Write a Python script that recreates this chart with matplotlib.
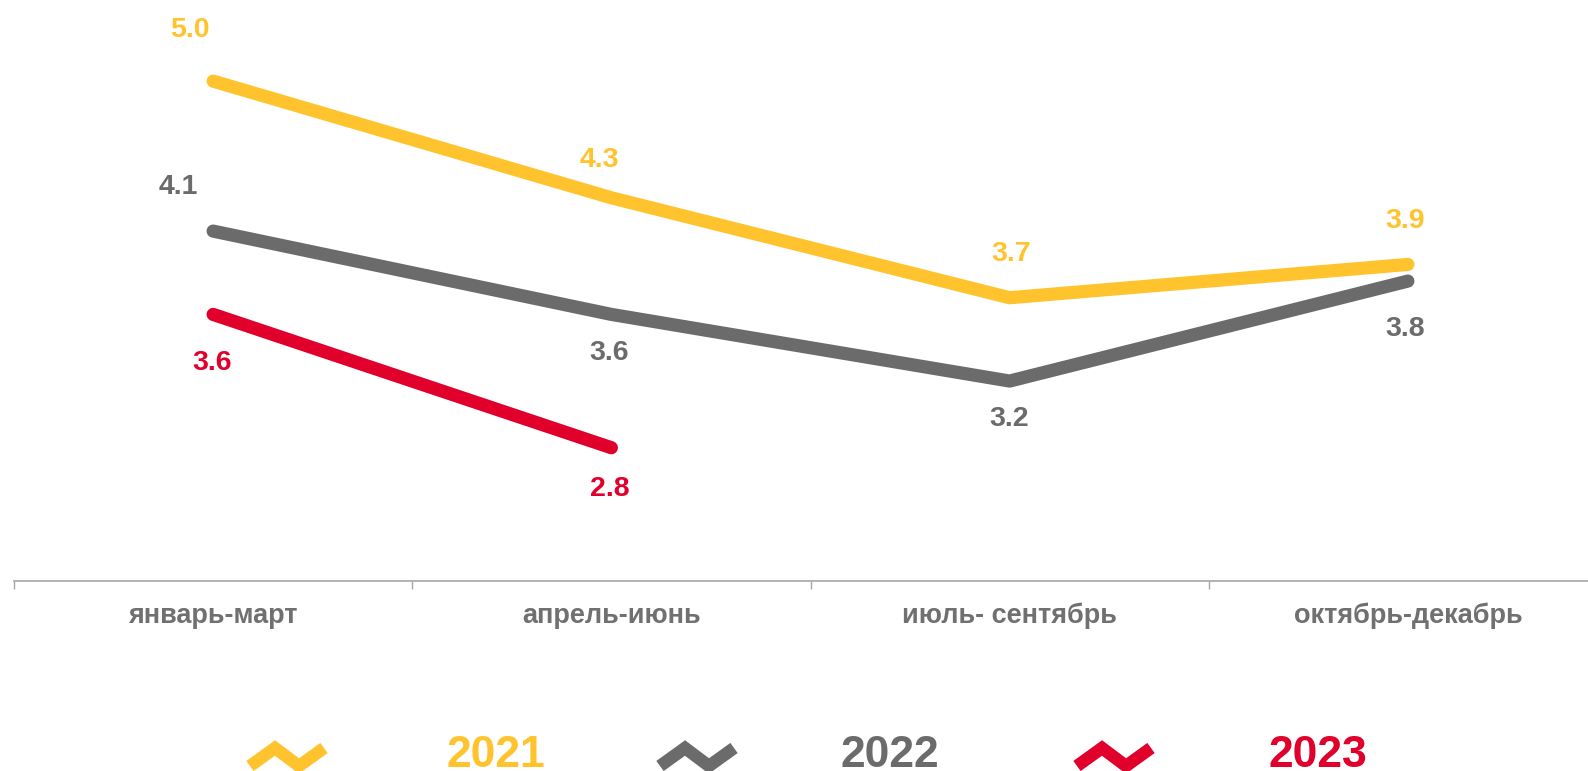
import matplotlib
matplotlib.use("Agg")
import matplotlib.pyplot as plt
from matplotlib.lines import Line2D
from matplotlib.transforms import blended_transform_factory

plt.rcParams['font.family'] = ['Liberation Sans', 'DejaVu Sans']
plt.rcParams['font.weight'] = 'bold'

categories = ["январь-март", "апрель-июнь", "июль- сентябрь", "октябрь-декабрь"]
years = ["2021", "2022", "2023"]
values_2021 = [5.0, 4.3, 3.7, 3.9]
values_2022 = [4.1, 3.6, 3.2, 3.8]
values_2023 = [3.6, 2.8]

colors = {"2021": "#FFC32E", "2022": "#6B6B6B", "2023": "#E1002B"}
series = {"2021": values_2021, "2022": values_2022, "2023": values_2023}

# label offsets in pixels (style only)
label_offsets = {
    "2021": [(-23, 51), (-12, 38), (2, 44), (-3, 43)],
    "2022": [(-35, 44), (-2, -39), (0, -38), (-3, -48)],
    "2023": [(-1, -49), (-2, -41)],
}

W, H = 1588, 771
fig = plt.figure(figsize=(W / 100, H / 100), dpi=100)
left = 14 / W
width = (1607 - 14) / W
bottom = 1 - 581 / H
ax = fig.add_axes([left, bottom, width, 1 - bottom])
ax.set_xlim(-0.5, 3.5)
ax.set_ylim(2.0, 5.487)
ax.patch.set_alpha(0)

for y in years:
    vals = series[y]
    xs = list(range(len(vals)))
    ax.plot(xs, vals, color=colors[y], lw=9.5, solid_capstyle='round',
            solid_joinstyle='round', zorder=3 if y != "2022" else 2)
    for i, v in enumerate(vals):
        dx, dy = label_offsets[y][i]
        ax.annotate(f"{v:.1f}", (i, v), xytext=(dx, dy), textcoords='offset pixels',
                    ha='center', va='center', fontsize=20.5, fontweight='bold',
                    color=colors[y])

for s in ['top', 'right', 'left']:
    ax.spines[s].set_visible(False)
ax.spines['bottom'].set_color('#A6A6A6')
ax.spines['bottom'].set_linewidth(1.2)
ax.set_yticks([])
ax.set_xticks([-0.5, 0.5, 1.5, 2.5, 3.5])
ax.set_xticklabels([])
ax.tick_params(axis='x', length=5.8, width=1.0, color='#A6A6A6', direction='out')

tr = blended_transform_factory(ax.transData, fig.transFigure)
for i, c in enumerate(categories):
    ax.text(i, 1 - 623 / H, c, transform=tr, ha='center', va='baseline',
            fontsize=19.5, fontweight='bold', color='#707070')

# legend
zig = [(250, 766), (275, 748), (299, 766), (324, 748)]
marker_dx = {"2021": 0, "2022": 410, "2023": 827}
text_x = {"2021": 446, "2022": 840, "2023": 1268}
for y in years:
    xs = [(p[0] + marker_dx[y]) / W for p in zig]
    ys = [1 - p[1] / H for p in zig]
    fig.add_artist(Line2D(xs, ys, transform=fig.transFigure, color=colors[y], lw=9.0,
                          solid_capstyle='butt', solid_joinstyle='miter'))
    fig.text(text_x[y] / W, 1 - 767 / H, y, ha='left', va='baseline', fontsize=32,
             fontweight='bold', color=colors[y])

fig.savefig("out.png", dpi=100)
